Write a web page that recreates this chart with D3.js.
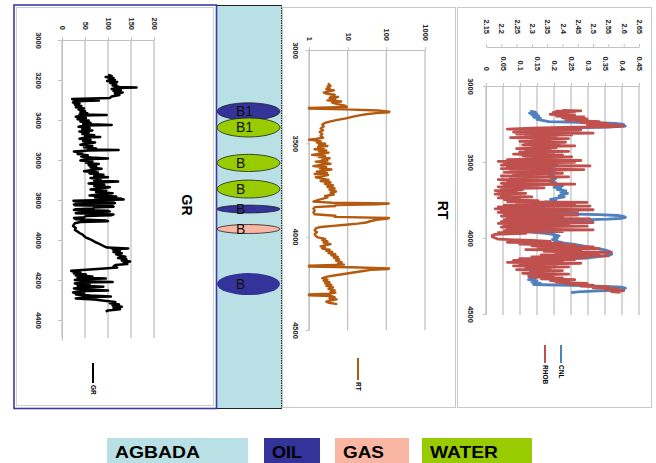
<!DOCTYPE html>
<html>
<head>
<meta charset="utf-8">
<script src="https://cdn.jsdelivr.net/npm/d3@7"></script>
<style>
  body { margin: 0; background: #fff; }
  text { font-family: "Liberation Sans", Arial, sans-serif; }
</style>
</head>
<body>
<svg id="chart" width="656" height="463"></svg>
<script>
// ---- data: [depth, value] ----
const grLog = [[3175,100],[3180,108],[3185,95],[3190,112],[3195,102],[3200,115],[3205,98],[3210,120],[3215,105],[3222,118],[3228,110],[3235,125],[3237,162],[3240,120],[3245,108],[3250,128],[3255,112],[3262,132],[3268,115],[3275,125],[3282,108],[3290,104],[3295,22],[3300,28],[3303,80],[3306,30],[3312,24],[3318,38],[3324,28],[3330,42],[3336,30],[3342,48],[3348,36],[3355,50],[3360,40],[3366,55],[3372,38],[3375,97],[3378,42],[3384,30],[3390,52],[3396,34],[3402,58],[3408,40],[3414,62],[3420,46],[3425,108],[3428,50],[3434,36],[3440,60],[3446,44],[3452,66],[3458,38],[3464,58],[3470,44],[3476,70],[3482,50],[3485,83],[3488,52],[3494,38],[3500,62],[3506,46],[3512,72],[3518,54],[3524,40],[3530,66],[3536,48],[3542,74],[3548,56],[3550,123],[3553,58],[3558,26],[3564,44],[3570,34],[3576,56],[3582,42],[3588,64],[3592,100],[3596,50],[3602,40],[3608,66],[3614,52],[3620,80],[3626,58],[3632,74],[3638,62],[3644,86],[3650,66],[3656,48],[3662,78],[3668,60],[3674,90],[3680,70],[3686,100],[3690,62],[3696,84],[3702,70],[3708,122],[3712,76],[3718,58],[3724,92],[3730,70],[3736,104],[3742,78],[3748,62],[3754,96],[3760,74],[3766,110],[3772,80],[3778,60],[3783,118],[3788,72],[3793,128],[3797,134],[3800,90],[3804,25],[3808,30],[3812,112],[3816,115],[3818,48],[3822,26],[3826,28],[3830,110],[3834,112],[3838,70],[3842,68],[3846,30],[3850,26],[3854,100],[3858,104],[3862,40],[3866,30],[3872,112],[3876,108],[3880,52],[3886,48],[3890,26],[3896,30],[3902,95],[3906,100],[3910,40],[3916,28],[3922,26],[3930,24],[3940,30],[3950,28],[3958,34],[3965,38],[3972,44],[3980,48],[3988,52],[3995,60],[4002,66],[4010,72],[4018,80],[4025,86],[4032,92],[4038,98],[4042,144],[4046,110],[4050,118],[4055,126],[4060,112],[4066,130],[4072,118],[4078,126],[4084,138],[4090,122],[4096,140],[4102,130],[4108,148],[4114,134],[4120,142],[4125,116],[4132,112],[4138,120],[4142,92],[4148,60],[4154,20],[4158,24],[4163,40],[4168,26],[4173,52],[4178,30],[4183,66],[4188,34],[4193,95],[4196,38],[4200,28],[4206,50],[4210,110],[4213,42],[4218,28],[4224,60],[4228,34],[4234,90],[4238,40],[4242,26],[4248,56],[4252,100],[4256,36],[4262,24],[4268,48],[4272,30],[4278,62],[4283,106],[4287,44],[4292,30],[4298,70],[4304,92],[4310,116],[4316,104],[4322,124],[4328,110],[4334,130],[4340,112],[4346,126],[4352,100],[4358,95]];

const rtLog = [[3178,3.4],[3185,3.2],[3192,3.6],[3198,3.0],[3204,3.4],[3210,2.8],[3216,4.4],[3222,3.2],[3228,2.4],[3234,2.8],[3240,4.6],[3246,3.6],[3252,5.6],[3258,3.4],[3264,4.8],[3270,3.0],[3276,6.8],[3282,4.0],[3290,5.4],[3298,8.6],[3305,9.5],[3310,1.0],[3314,1.0],[3318,9.0],[3324,60],[3330,120],[3334,115],[3338,55],[3344,30],[3350,20],[3358,13],[3366,9],[3374,5.5],[3382,3.6],[3390,2.6],[3400,2.2],[3410,2.4],[3420,2.0],[3430,2.3],[3440,1.9],[3450,2.2],[3460,2.0],[3470,2.3],[3476,1.5],[3480,1.0],[3484,1.4],[3490,2.0],[3496,1.6],[3502,2.6],[3508,1.8],[3514,3.0],[3520,1.7],[3526,2.4],[3532,1.4],[3538,2.8],[3544,1.8],[3550,3.2],[3556,2.0],[3562,1.2],[3568,2.6],[3574,1.8],[3580,3.4],[3586,2.2],[3592,3.0],[3598,1.5],[3604,2.6],[3610,3.6],[3616,2.0],[3622,1.3],[3628,2.8],[3634,1.9],[3640,3.8],[3646,2.4],[3652,1.6],[3658,2.9],[3664,1.4],[3670,3.1],[3676,2.2],[3682,1.5],[3690,2.4],[3696,3.2],[3702,2.0],[3710,3.6],[3718,2.6],[3726,4.2],[3734,3.0],[3742,4.6],[3750,3.4],[3758,5.0],[3766,3.6],[3774,4.4],[3782,2.6],[3790,3.0],[3798,2.2],[3806,1.6],[3812,1.3],[3818,4.0],[3822,115],[3826,60],[3830,4.8],[3836,4.8],[3842,1.4],[3850,1.3],[3860,1.4],[3870,1.3],[3880,1.4],[3888,4.8],[3894,4.6],[3900,117],[3904,100],[3908,60],[3916,40],[3924,30],[3930,18],[3936,9],[3942,4.2],[3948,2.0],[3956,1.5],[3966,1.4],[3976,1.6],[3986,1.4],[3996,1.5],[4004,1.7],[4012,2.6],[4018,2.2],[4026,3.0],[4032,2.4],[4040,3.6],[4046,2.6],[4052,2.0],[4058,2.6],[4064,2.2],[4070,3.4],[4076,2.8],[4082,4.0],[4088,3.2],[4094,4.8],[4100,3.8],[4108,5.6],[4114,4.4],[4120,6.0],[4128,5.0],[4136,7.0],[4144,5.6],[4150,8.0],[4156,1.0],[4160,1.0],[4164,12],[4170,118],[4174,110],[4178,40],[4184,25],[4192,14],[4200,8],[4208,4.4],[4214,3.0],[4222,2.2],[4230,3.0],[4236,2.4],[4244,3.4],[4250,2.6],[4258,3.8],[4264,2.8],[4272,4.2],[4280,3.2],[4288,4.6],[4294,3.6],[4300,4.8],[4306,3.2],[4310,1.0],[4314,1.0],[4318,3.8],[4324,4.6],[4330,3.4],[4336,5.2],[4342,3.6],[4348,2.8],[4354,3.2],[4360,5.0],[4366,5.2]];

const cnlLog = [[3165,0.130],[3172,0.145],[3178,0.128],[3184,0.150],[3190,0.135],[3196,0.155],[3204,0.140],[3212,0.160],[3220,0.150],[3228,0.170],[3234,0.185],[3240,0.300],[3246,0.380],[3252,0.405],[3258,0.395],[3264,0.410],[3270,0.360],[3276,0.250],[3282,0.180],[3290,0.160],[3298,0.175],[3306,0.150],[3314,0.165],[3322,0.140],[3330,0.170],[3338,0.150],[3346,0.180],[3354,0.145],[3362,0.160],[3370,0.140],[3378,0.155],[3386,0.130],[3394,0.150],[3402,0.165],[3410,0.140],[3418,0.155],[3426,0.130],[3434,0.150],[3442,0.135],[3450,0.160],[3458,0.140],[3466,0.170],[3474,0.150],[3482,0.175],[3490,0.185],[3498,0.170],[3506,0.195],[3514,0.180],[3522,0.210],[3530,0.190],[3538,0.200],[3546,0.185],[3554,0.205],[3562,0.190],[3570,0.180],[3578,0.195],[3586,0.185],[3594,0.200],[3602,0.190],[3610,0.205],[3618,0.195],[3626,0.185],[3634,0.205],[3642,0.195],[3650,0.210],[3658,0.225],[3666,0.200],[3674,0.220],[3682,0.210],[3690,0.235],[3698,0.220],[3706,0.240],[3714,0.225],[3722,0.215],[3730,0.230],[3738,0.210],[3746,0.190],[3754,0.205],[3762,0.175],[3770,0.160],[3778,0.180],[3786,0.150],[3794,0.170],[3802,0.145],[3810,0.160],[3818,0.130],[3826,0.150],[3834,0.120],[3840,0.200],[3846,0.330],[3852,0.390],[3858,0.405],[3864,0.410],[3870,0.400],[3876,0.360],[3882,0.260],[3888,0.180],[3894,0.150],[3900,0.240],[3906,0.150],[3914,0.130],[3922,0.200],[3930,0.150],[3938,0.130],[3946,0.220],[3954,0.150],[3962,0.135],[3970,0.175],[3978,0.200],[3986,0.215],[3994,0.200],[4002,0.210],[4010,0.195],[4018,0.205],[4026,0.215],[4034,0.230],[4042,0.260],[4050,0.280],[4058,0.300],[4066,0.320],[4074,0.340],[4082,0.355],[4090,0.365],[4098,0.350],[4106,0.370],[4114,0.360],[4122,0.330],[4130,0.300],[4138,0.250],[4146,0.200],[4154,0.180],[4162,0.150],[4170,0.165],[4178,0.140],[4186,0.155],[4194,0.130],[4202,0.150],[4210,0.140],[4218,0.160],[4226,0.130],[4234,0.145],[4242,0.125],[4250,0.150],[4258,0.130],[4266,0.145],[4274,0.125],[4282,0.150],[4290,0.135],[4298,0.160],[4306,0.140],[4312,0.250],[4318,0.350],[4324,0.400],[4330,0.410],[4336,0.395],[4342,0.405],[4348,0.330],[4354,0.270],[4360,0.250]];

const rhobLog = [[3160,2.40],[3163,2.46],[3166,2.38],[3170,2.44],[3174,2.37],[3180,2.42],[3186,2.36],[3192,2.44],[3198,2.38],[3204,2.47],[3210,2.40],[3216,2.48],[3222,2.41],[3228,2.45],[3234,2.52],[3240,2.46],[3246,2.55],[3252,2.48],[3258,2.58],[3264,2.60],[3268,2.54],[3272,2.40],[3278,2.30],[3284,2.22],[3288,2.46],[3292,2.26],[3298,2.40],[3304,2.24],[3310,2.50],[3316,2.25],[3322,2.43],[3328,2.28],[3334,2.38],[3340,2.23],[3346,2.42],[3352,2.30],[3358,2.36],[3364,2.26],[3370,2.41],[3376,2.28],[3382,2.39],[3388,2.27],[3394,2.44],[3400,2.30],[3406,2.38],[3412,2.25],[3418,2.36],[3424,2.28],[3430,2.42],[3436,2.26],[3442,2.37],[3448,2.24],[3454,2.40],[3460,2.27],[3466,2.43],[3472,2.28],[3478,2.36],[3484,2.22],[3490,2.46],[3496,2.19],[3502,2.44],[3508,2.21],[3514,2.38],[3520,2.20],[3526,2.49],[3532,2.22],[3538,2.36],[3544,2.20],[3550,2.47],[3556,2.23],[3562,2.35],[3568,2.21],[3574,2.40],[3580,2.24],[3586,2.33],[3592,2.20],[3598,2.42],[3604,2.23],[3610,2.31],[3616,2.19],[3622,2.37],[3628,2.22],[3634,2.30],[3640,2.20],[3646,2.44],[3652,2.21],[3658,2.29],[3664,2.19],[3670,2.34],[3676,2.20],[3682,2.27],[3688,2.18],[3694,2.25],[3700,2.19],[3706,2.28],[3712,2.18],[3718,2.24],[3724,2.20],[3730,2.30],[3736,2.19],[3742,2.26],[3748,2.21],[3754,2.32],[3760,2.22],[3766,2.48],[3772,2.25],[3778,2.44],[3784,2.21],[3790,2.49],[3796,2.19],[3802,2.33],[3808,2.18],[3814,2.50],[3820,2.20],[3826,2.45],[3832,2.19],[3838,2.30],[3844,2.21],[3850,2.45],[3856,2.20],[3862,2.40],[3868,2.22],[3874,2.49],[3880,2.21],[3886,2.37],[3892,2.20],[3898,2.50],[3904,2.19],[3910,2.42],[3916,2.21],[3922,2.48],[3928,2.20],[3934,2.30],[3940,2.22],[3946,2.50],[3952,2.21],[3958,2.40],[3964,2.19],[3970,2.28],[3976,2.18],[3984,2.17],[3992,2.17],[4000,2.18],[4008,2.19],[4016,2.30],[4022,2.36],[4028,2.22],[4034,2.40],[4040,2.26],[4046,2.44],[4052,2.30],[4058,2.50],[4064,2.32],[4070,2.52],[4076,2.28],[4082,2.46],[4088,2.34],[4094,2.56],[4100,2.38],[4106,2.52],[4112,2.33],[4118,2.55],[4124,2.30],[4130,2.48],[4136,2.26],[4142,2.44],[4148,2.24],[4154,2.40],[4160,2.22],[4166,2.46],[4172,2.26],[4178,2.38],[4184,2.24],[4190,2.42],[4196,2.28],[4202,2.36],[4208,2.25],[4214,2.40],[4220,2.30],[4226,2.36],[4232,2.27],[4238,2.42],[4244,2.30],[4250,2.37],[4256,2.29],[4262,2.40],[4268,2.33],[4274,2.44],[4280,2.36],[4286,2.42],[4292,2.38],[4298,2.48],[4304,2.42],[4310,2.50],[4316,2.46],[4322,2.55],[4328,2.50],[4334,2.58],[4340,2.54],[4346,2.60],[4352,2.56],[4358,2.59]];

// reservoir sands in the AGBADA column: [label, fluid, top depth, base depth]
const sands = [["B1","OIL",3283,3375],["B1","WATER",3364,3466],["B","WATER",3559,3651],["B","WATER",3697,3793],["B","OIL",3831,3873],["B","GAS",3935,3983],["B","OIL",4195,4313]];

const grTicks = [0, 50, 100, 150, 200];
const rtTicks = [1, 10, 100, 1000];
const cnlTicks = [0, 0.05, 0.1, 0.15, 0.2, 0.25, 0.3, 0.35, 0.4, 0.45];
const rhobTicks = [2.15, 2.2, 2.25, 2.3, 2.35, 2.4, 2.45, 2.5, 2.55, 2.6, 2.65];
const grDepthTicks = [3000, 3200, 3400, 3600, 3800, 4000, 4200, 4400];
const depthTicks = [3000, 3500, 4000, 4500];

const legendNames = ["AGBADA", "OIL", "GAS", "WATER"];
const legendColors = { AGBADA: "#b9e0e4", OIL: "#333399", GAS: "#f9b6a2", WATER: "#99cc00" };

const svg = d3.select("#chart");
const GRID = "#c2c2c2";
const fmt = d => String(+d.toFixed(2));

// d3 axes come out horizontal; turn their labels to read top-down like the rotated sheet
function turnLabels(g, dx, dy, anchor) {
  g.attr("font-family", null).attr("font-size", null);
  g.select(".domain").attr("stroke", GRID);
  g.selectAll(".tick line").attr("stroke", GRID);
  g.selectAll(".tick text")
    .attr("x", null).attr("y", null).attr("dy", null)
    .attr("fill", "#222").style("font-size", "7.5px").style("font-weight", "bold")
    .attr("text-anchor", anchor)
    .attr("dominant-baseline", "central")
    .attr("transform", `translate(${dx},${dy}) rotate(90)`);
}

function vText(x, y, str, size, anchor, weight) {
  svg.append("text")
    .attr("transform", `translate(${x},${y}) rotate(90)`)
    .attr("text-anchor", anchor).attr("dominant-baseline", "central")
    .style("font-size", size + "px").style("font-weight", weight || "normal")
    .text(str);
}

function legendEntry(x, y1, y2, color, name) {
  svg.append("line").attr("x1", x).attr("x2", x).attr("y1", y1).attr("y2", y2)
    .attr("stroke", color).attr("stroke-width", 2);
  vText(x, y2 + 2, name, 6.5, "start", "bold");
}

function grid(ticks, x, y0, y1) {
  svg.append("g").selectAll("line").data(ticks).join("line")
    .attr("x1", d => x(d)).attr("x2", d => x(d))
    .attr("y1", y0).attr("y2", y1)
    .attr("stroke", GRID).attr("stroke-width", 1.3);
}

function curve(data, x, y, color, w) {
  svg.append("path").datum(data)
    .attr("fill", "none").attr("stroke", color).attr("stroke-width", w)
    .attr("stroke-linejoin", "round")
    .attr("d", d3.line().x(d => x(d[1])).y(d => y(d[0])));
}

// ---------- panel frames ----------
svg.append("rect").attr("x", 457.5).attr("y", 7.5).attr("width", 194).attr("height", 400)
  .attr("fill", "#fff").attr("stroke", "#c8c8c8");
svg.append("rect").attr("x", 282.5).attr("y", 7.5).attr("width", 173).attr("height", 400)
  .attr("fill", "#fff").attr("stroke", "#c8c8c8");
svg.append("rect").attr("x", 216).attr("y", 5).attr("width", 65.5).attr("height", 404)
  .attr("fill", legendColors.AGBADA);
svg.append("line").attr("x1", 216).attr("x2", 282).attr("y1", 5.5).attr("y2", 5.5).attr("stroke", "#222");
svg.append("line").attr("x1", 216).attr("x2", 282).attr("y1", 408.5).attr("y2", 408.5).attr("stroke", "#222");
svg.append("line").attr("x1", 281.5).attr("x2", 281.5).attr("y1", 5).attr("y2", 409)
  .attr("stroke", "#222").attr("stroke-dasharray", "1.5,1");

// ---------- GR track ----------
const yGR = d3.scaleLinear().domain([3000, 4500]).range([40, 340]);
const xGR = d3.scaleLinear().domain([0, 200]).range([62, 154]);
grid(grTicks, xGR, 40, 338);
svg.append("g").attr("transform", "translate(62,0)")
  .call(d3.axisLeft(yGR).tickValues(grDepthTicks).tickSize(4).tickSizeOuter(0).tickFormat(d3.format("d")))
  .call(g => turnLabels(g, -24, 0, "middle"));
svg.append("g").attr("transform", "translate(0,40)")
  .call(d3.axisTop(xGR).tickValues(grTicks).tickSize(3).tickSizeOuter(0))
  .call(g => turnLabels(g, 0, -10, "end"));
curve(grLog, xGR, yGR, "#000", 2.5);
vText(187, 205, "GR", 14, "middle", "bold");
legendEntry(93, 363, 383, "#000", "GR");

// ---------- RT track ----------
const yRT = d3.scaleLinear().domain([3000, 4500]).range([50, 330]);
const xRT = d3.scaleLog().domain([1, 1000]).range([309, 425]);
grid(rtTicks, xRT, 50, 330);
svg.append("g").attr("transform", "translate(309,0)")
  .call(d3.axisLeft(yRT).tickValues(depthTicks).tickSize(3).tickSizeOuter(0).tickFormat(d3.format("d")))
  .call(g => turnLabels(g, -14, 0, "middle"));
svg.append("g").attr("transform", "translate(0,50)")
  .call(d3.axisTop(xRT).tickValues(rtTicks).tickSize(3).tickSizeOuter(0).tickFormat(d3.format("d")))
  .call(g => turnLabels(g, 0, -9, "end"));
curve(rtLog, xRT, yRT, "#b5590f", 2.4);
vText(443, 210, "RT", 14, "middle", "bold");
legendEntry(358, 358, 380, "#b5590f", "RT");

// ---------- CNL / RHOB track ----------
const yND = d3.scaleLinear().domain([3000, 4500]).range([86, 314]);
const xCNL = d3.scaleLinear().domain([0, 0.45]).range([486, 639]);
const xRHOB = d3.scaleLinear().domain([2.15, 2.65]).range([486, 639]);
grid(cnlTicks, xCNL, 86, 315);
svg.append("g").attr("transform", "translate(486,0)")
  .call(d3.axisLeft(yND).tickValues(depthTicks).tickSize(3).tickSizeOuter(0).tickFormat(d3.format("d")))
  .call(g => turnLabels(g, -16, 0, "middle"));
svg.append("g").attr("transform", "translate(0,86)")
  .call(d3.axisTop(xCNL).tickValues(cnlTicks).tickSize(3).tickSizeOuter(0).tickFormat(fmt))
  .call(g => turnLabels(g, 0, -15, "end"));
svg.append("g").attr("transform", "translate(0,47)")
  .call(d3.axisTop(xRHOB).tickValues(rhobTicks).tickSize(3).tickSizeOuter(0).tickFormat(fmt))
  .call(g => turnLabels(g, 0, -13, "end"));
curve(cnlLog, xCNL, yND, "#4f81bd", 2.8);
curve(rhobLog, xRHOB, yND, "#c0504d", 2.8);
legendEntry(561, 345, 363, "#4f81bd", "CNL");
legendEntry(545, 345, 363, "#c0504d", "RHOB");

// ---------- sands in the AGBADA column (depth placed with the RT depth scale) ----------
sands.forEach(([label, fluid, top, base]) => {
  const cy = (yRT(top) + yRT(base)) / 2;
  const ry = (yRT(base) - yRT(top)) / 2;
  svg.append("ellipse").attr("cx", 248.5).attr("cy", cy).attr("rx", 31.5).attr("ry", ry)
    .attr("fill", legendColors[fluid])
    .attr("stroke", ry > 10 && fluid === "OIL" ? "none" : "#222").attr("stroke-width", 0.8);
  svg.append("text").attr("x", 236).attr("y", cy + 5)
    .style("font-size", "14px").attr("fill", "#111").text(label);
});

// GR panel frame on top
svg.append("rect").attr("x", 16.5).attr("y", 7.5).attr("width", 197).attr("height", 398)
  .attr("fill", "none").attr("stroke", "#d0d0d0");
svg.append("rect").attr("x", 14).attr("y", 5).attr("width", 202.5).attr("height", 403.5)
  .attr("fill", "none").attr("stroke", "#3b3ba3").attr("stroke-width", 1.6);

// ---------- bottom legend ----------
const boxX = { AGBADA: [107, 248], OIL: [264, 320], GAS: [335, 409], WATER: [422, 532] };
const leg = svg.append("g");
legendNames.forEach(name => {
  const [x0, x1] = boxX[name];
  leg.append("rect").attr("x", x0).attr("y", 438).attr("width", x1 - x0).attr("height", 25)
    .attr("fill", legendColors[name]);
  leg.append("text").attr("x", x0 + 8).attr("y", 458)
    .style("font-size", "16.5px").style("font-weight", "bold").attr("fill", "#000")
    .attr("textLength", { AGBADA: 85, OIL: 30, GAS: 41, WATER: 68 }[name])
    .attr("lengthAdjust", "spacingAndGlyphs")
    .text(name);
});
</script>
</body>
</html>
